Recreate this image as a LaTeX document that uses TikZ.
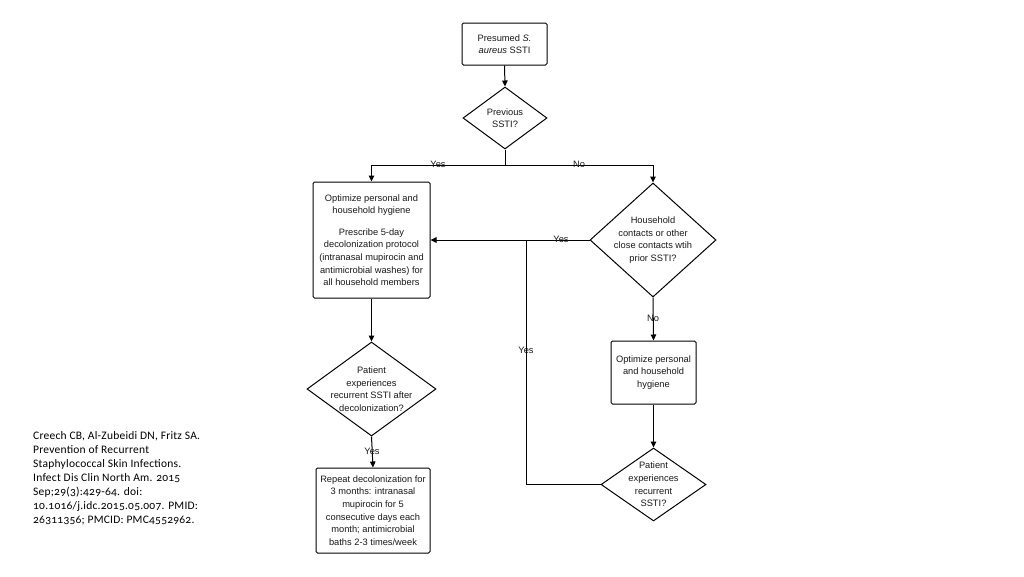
\documentclass[tikz,border=0pt]{standalone}
\usepackage{fontspec}
\setmainfont{Liberation Sans}
\newfontfamily\citefont[Numbers=OldStyle,LetterSpace=2]{Carlito}
\usetikzlibrary{shapes.geometric,arrows.meta}
\begin{document}
\begin{tikzpicture}[x=1pt,y=-1pt,
  every node/.style={font=\fontsize{9.3}{12.6}\selectfont, text=black!90},
  boxnode/.style={draw, line width=1pt, rounded corners=1.5pt, align=center, inner sep=1pt},
  dia/.style={draw, line width=1pt, diamond, inner sep=0pt},
  txt/.style={align=center, inner sep=0pt},
  lab/.style={inner sep=0pt},
  arr/.style={line width=1pt, -{Triangle[length=6pt,width=5.5pt]}},
  ln/.style={line width=1pt}]
\useasboundingbox (0,0) rectangle (1024,576);
\fill[white] (0,0) rectangle (1024,576);

\node[boxnode, minimum width=85pt, minimum height=42pt] (top) at (504.5,44) {Presumed \textit{S.}\\\textit{aureus} SSTI};

\node[dia, minimum width=84pt, minimum height=62pt] (prev) at (505,118) {};
\node[txt] (prevt) at (prev) {Previous\\SSTI?};

\node[boxnode, minimum width=117pt, minimum height=116pt] (opt1) at (371.5,240)
  {Optimize personal and\\household hygiene\\[9pt]Prescribe 5-day\\decolonization protocol\\(intranasal mupirocin and\\antimicrobial washes) for\\all household members};

\node[dia, minimum width=126pt, minimum height=114pt] (hh) at (653,240) {};
\node[txt] (hht) at (hh) {Household\\contacts or other\\close contacts wtih\\prior SSTI?};

\node[boxnode, minimum width=85pt, minimum height=63pt] (opt2) at (653.5,372.5) {Optimize personal\\and household\\hygiene};

\node[dia, minimum width=105pt, minimum height=73pt] (rec2) at (653.5,484.5) {};
\node[txt] (rec2t) at (rec2) {Patient\\experiences\\recurrent\\SSTI?};

\node[dia, minimum width=129pt, minimum height=94pt] (rec1) at (371.5,389) {};
\node[txt] (rec1t) at (rec1) {Patient\\experiences\\recurrent SSTI after\\decolonization?};

\node[boxnode, minimum width=114pt, minimum height=85pt] (rep) at (373,510.5)
  {Repeat decolonization for\\3 months: intranasal\\mupirocin for 5\\consecutive days each\\month; antimicrobial\\baths 2-3 times/week};

\coordinate (br) at (505,165);
\coordinate (j) at (526,240);

\draw[arr] (top.south) -- (prev.north);
\draw[ln] (prev.south) -- (br);
\draw[arr] (br) -| (opt1.north);
\draw[arr] (br) -| (hh.north);
\draw[arr] (hh.west) -- (opt1.east);
\draw[arr] (hh.south) -- (opt2.north);
\draw[arr] (opt2.south) -- (rec2.north);
\draw[ln] (rec2.west) -| (j);
\draw[arr] (opt1.south) -- (rec1.north);
\draw[arr] (rec1.south) -- (rep.north);

\node[lab] (ly1) at (438,164) {Yes};
\node[lab] (ln1) at (579,164) {No};
\node[lab] (ly2) at (561,239) {Yes};
\node[lab] (ln2) at (653,318) {No};
\node[lab] (ly3) at (526,350) {Yes};
\node[lab] (ly4) at (372,451) {Yes};

\node[anchor=north west, align=left, inner sep=0pt, font=\citefont\fontsize{11.5}{14}\selectfont, text=black] (cite) at (33,431)
  {Creech CB, Al-Zubeidi DN, Fritz SA.\\Prevention of Recurrent\\Staphylococcal Skin Infections.\\Infect Dis Clin North Am. 2015\\Sep;29(3):429-64. doi:\\10.1016/j.idc.2015.05.007. PMID:\\26311356; PMCID: PMC4552962.};
\end{tikzpicture}
\end{document}
